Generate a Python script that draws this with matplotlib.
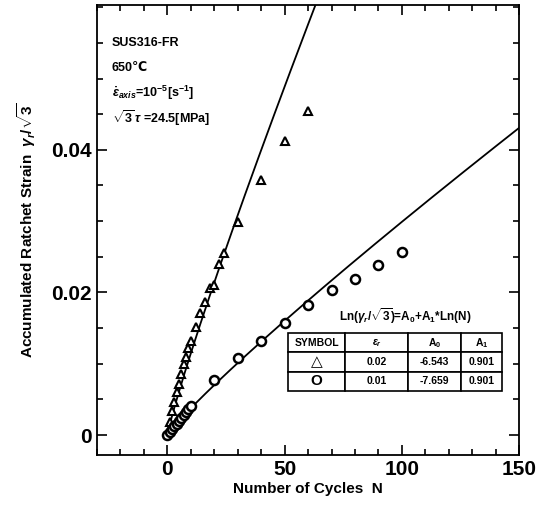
"""
Accumulated ratchet strain vs number of cycles, SUS316-FR, with power-law fits.
"""

import numpy as np
import matplotlib.pyplot as plt
from matplotlib.ticker import MultipleLocator

plt.rcParams['font.family'] = ['Liberation Sans', 'DejaVu Sans']
plt.rcParams['font.weight'] = 'bold'
plt.rcParams['mathtext.fontset'] = 'custom'
plt.rcParams['mathtext.rm'] = 'Liberation Sans:bold'
plt.rcParams['mathtext.it'] = 'Liberation Sans:italic:bold'
plt.rcParams['mathtext.bf'] = 'Liberation Sans:bold'

# measured points, eps_r = 0.02 (triangles)
n_tri = [1, 2, 3, 4, 5, 6, 7, 8, 9, 10, 12, 14, 16, 18, 20, 22, 24, 30, 40, 50, 60]
g_tri = [0.0018, 0.0033, 0.0047, 0.0060, 0.0072, 0.0086, 0.0099, 0.0110, 0.0122,
         0.0132, 0.0152, 0.0171, 0.0186, 0.0206, 0.0210, 0.0240, 0.0255, 0.0299,
         0.0357, 0.0412, 0.0454]

# measured points, eps_r = 0.01 (circles)
n_cir = [0, 1, 2, 3, 4, 5, 6, 7, 8, 9, 10, 20, 30, 40, 50, 60, 70, 80, 90, 100]
g_cir = [0.0, 0.0004, 0.0008, 0.0012, 0.0016, 0.0020, 0.0024, 0.0028, 0.0032,
         0.0036, 0.0040, 0.0077, 0.0108, 0.0132, 0.0157, 0.0183, 0.0203, 0.0219,
         0.0239, 0.0257]

# fit coefficients: Ln(g) = A0 + A1*Ln(N)
fit_symbols = ['△', 'O']
fit_eps = ['0.02', '0.01']
fit_a0 = [-6.543, -7.659]
fit_a1 = [0.901, 0.901]

fig = plt.figure(figsize=(5.42, 5.07), dpi=100)
ax = fig.add_axes([0.179, 0.1026, 0.779, 0.8874])

n_fit = np.linspace(0, 150, 600)
for a0, a1 in zip(fit_a0, fit_a1):
    ax.plot(n_fit, np.exp(a0) * n_fit ** a1, color='black', lw=1.3, zorder=2)

ax.plot(n_tri, g_tri, linestyle='none', marker='^', ms=5.5, mfc='white',
        mec='black', mew=1.5, zorder=3)
ax.plot(n_cir, g_cir, linestyle='none', marker='o', ms=6.5, mfc='white',
        mec='black', mew=1.8, zorder=3)

ax.set_xlim(-30, 150)
ax.set_ylim(-0.0028, 0.0603)
ax.xaxis.set_major_locator(MultipleLocator(50))
ax.xaxis.set_minor_locator(MultipleLocator(10))
ax.yaxis.set_major_locator(MultipleLocator(0.02))
ax.yaxis.set_minor_locator(MultipleLocator(0.005))
ax.set_yticks([0, 0.02, 0.04])
ax.set_yticklabels(['0', '0.02', '0.04'])
ax.tick_params(which='both', direction='in', top=True, right=True,
               labelsize=15, width=1.2)
ax.tick_params(which='major', length=7)
ax.tick_params(which='minor', length=4)
for s in ax.spines.values():
    s.set_linewidth(1.3)

ax.set_xlabel('Number of Cycles  N', fontsize=11, fontweight='bold', labelpad=2)
ax.set_ylabel(r'Accumulated Ratchet Strain  $\gamma_r/\sqrt{3}$', fontsize=11,
              fontweight='bold', labelpad=10)

info = ['SUS316-FR', '650℃',
        r'$\dot{\varepsilon}_{axis}$=10$^{-5}$[s$^{-1}$]',
        r'$\sqrt{3}\,\tau$ =24.5[MPa]']
for i, t in enumerate(info):
    ax.text(0.035, 0.916 - i * 0.056, t, transform=ax.transAxes, fontsize=9,
            fontweight='bold', va='center')

ax.text(0.73, 0.308, r'Ln($\gamma_r/\sqrt{3}$)=A$_0$+A$_1$*Ln(N)',
        transform=ax.transAxes, fontsize=8.5, fontweight='bold',
        ha='center', va='center')

cells = [[s, e, f'{a0:.3f}', f'{a1:.3f}']
         for s, e, a0, a1 in zip(fit_symbols, fit_eps, fit_a0, fit_a1)]
tbl = ax.table(cellText=cells,
               colLabels=['SYMBOL', r'$\varepsilon_r$', 'A$_0$', 'A$_1$'],
               colWidths=[0.266, 0.294, 0.248, 0.192],
               cellLoc='center', bbox=[0.453, 0.142, 0.507, 0.129])
tbl.auto_set_font_size(False)
for (r, c), cell in tbl.get_celld().items():
    cell.set_linewidth(1.2)
    cell.get_text().set_fontweight('bold')
    cell.get_text().set_fontsize(11 if (c == 0 and r > 0) else 7.5)

fig.savefig('out.png', dpi=100)
